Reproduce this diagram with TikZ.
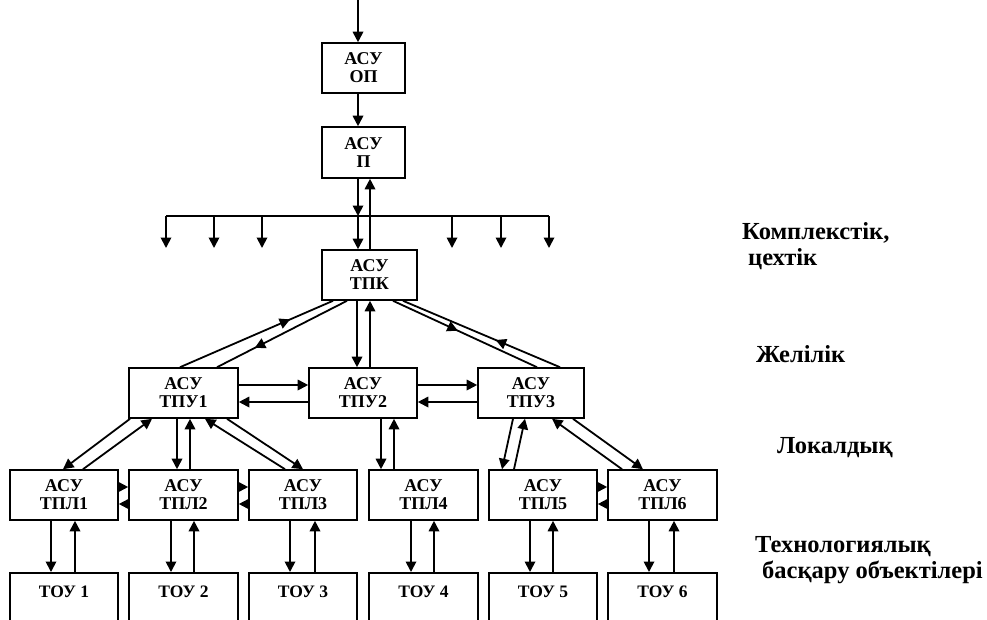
\documentclass[tikz,border=0pt]{standalone}
\usepackage{fontspec}
\setmainfont{Liberation Serif}
\usetikzlibrary{arrows.meta,decorations.markings}
\tikzset{
  box/.style={draw, line width=1.6pt, minimum width=108pt, minimum height=50pt, inner sep=0pt, align=center, font=\fontsize{18}{18}\selectfont\bfseries},
  toubox/.style={draw, line width=1.6pt, minimum width=108pt, inner xsep=0pt, inner ysep=5pt, text height=20pt, text depth=45pt, anchor=north, font=\fontsize{17.5}{18}\selectfont\bfseries},
  arr/.style={line width=1.8pt, -{Triangle[length=10.5pt,width=10.5pt]}},
  ln/.style={line width=1.8pt},
  midarr/.style={line width=1.8pt, postaction={decorate}, decoration={markings, mark=at position #1 with {\arrow{Triangle[length=10.5pt,width=10.5pt]}}}},
  lbl/.style={anchor=base west, inner sep=0pt, font=\fontsize{24.5}{28}\selectfont\bfseries}
}
\begin{document}
\begin{tikzpicture}[x=1pt,y=-1pt]
\useasboundingbox (0,0) rectangle (987,619);
\clip (0,0) rectangle (987,619);
% nodes
\node[box, minimum width=83pt] (OP) at (363.5,68) {АСУ\\ОП};
\node[box, minimum width=83pt, minimum height=51pt] (P) at (363.5,152.5) {АСУ\\П};
\node[box, minimum width=95pt] (TPK) at (369.5,275) {АСУ\\ТПК};
\node[box, minimum width=109pt] (TPU1) at (183.5,393) {АСУ\\ТПУ1};
\node[box] (TPU2) at (363,393) {АСУ\\ТПУ2};
\node[box, minimum width=106pt] (TPU3) at (531,393) {АСУ\\ТПУ3};
\node[box] (TPL1) at (64,495) {АСУ\\ТПЛ1};
\node[box, minimum width=109pt] (TPL2) at (183.5,495) {АСУ\\ТПЛ2};
\node[box] (TPL3) at (303,495) {АСУ\\ТПЛ3};
\node[box, minimum width=109pt] (TPL4) at (423.5,495) {АСУ\\ТПЛ4};
\node[box] (TPL5) at (543,495) {АСУ\\ТПЛ5};
\node[box, minimum width=109pt] (TPL6) at (662.5,495) {АСУ\\ТПЛ6};
\node[toubox] (TOU1) at (64,572) {ТОУ 1};
\node[toubox, minimum width=109pt] (TOU2) at (183.5,572) {ТОУ 2};
\node[toubox] (TOU3) at (303,572) {ТОУ 3};
\node[toubox, minimum width=109pt] (TOU4) at (423.5,572) {ТОУ 4};
\node[toubox] (TOU5) at (543,572) {ТОУ 5};
\node[toubox, minimum width=109pt] (TOU6) at (662.5,572) {ТОУ 6};
% labels
\node[lbl] (L1) at (742,239) {Комплекстік,};
\node[lbl] (L2) at (748,265) {цехтік};
\node[lbl] (L3) at (756,362) {Желілік};
\node[lbl] (L4) at (777,453) {Локалдық};
\node[lbl] (L5) at (755,552) {Технологиялық};
\node[lbl] (L6) at (762,578) {басқару объектілері};
% top
\coordinate (in) at (358,0);
\draw[arr] (in) -- ([xshift=-5.5]OP.north);
\draw[arr] ([xshift=-5.5]OP.south) -- ([xshift=-5.5]P.north);
% bus
\coordinate (bj) at (358,216);
\coordinate (busL) at (166,216);
\coordinate (busR) at (549,216);
\coordinate (b2) at (214,216);
\coordinate (b3) at (262,216);
\coordinate (b5) at (452,216);
\coordinate (b6) at (501,216);
\draw[ln] (busL) -- (busR);
\draw[arr] ([xshift=-5.5]P.south) -- (bj);
\draw[arr] (bj) -- ([xshift=-11.5]TPK.north);
\draw[arr] ([xshift=0.5]TPK.north) -- ([xshift=6.5]P.south);
\foreach \c in {busL,b2,b3,b5,b6,busR} \draw[arr] (\c) -- ++(0,32);
% TPK - TPU
\draw[midarr=0.72] ([xshift=-3.5]TPU1.north) -- ([xshift=-36.5]TPK.south);
\draw[midarr=0.71] ([xshift=-22.5]TPK.south) -- ([xshift=33.5]TPU1.north);
\draw[arr] ([xshift=-12.5]TPK.south) -- ([xshift=-6]TPU2.north);
\draw[arr] ([xshift=7]TPU2.north) -- ([xshift=0.5]TPK.south);
\draw[midarr=0.45] ([xshift=23.5]TPK.south) -- ([xshift=6]TPU3.north);
\draw[midarr=0.41] ([xshift=29]TPU3.north) -- ([xshift=33.5]TPK.south);
% TPU horizontal
\draw[arr] ([yshift=8]TPU1.east) -- ([yshift=8]TPU2.west);
\draw[arr] ([yshift=-9]TPU2.west) -- ([yshift=-9]TPU1.east);
\draw[arr] ([yshift=8]TPU2.east) -- ([yshift=8]TPU3.west);
\draw[arr] ([yshift=-9]TPU3.west) -- ([yshift=-9]TPU2.east);
% TPU - TPL
\draw[arr] ([xshift=-53.5]TPU1.south) -- ([xshift=-1]TPL1.north);
\draw[arr] ([xshift=19]TPL1.north) -- ([xshift=-31.5]TPU1.south);
\draw[arr] ([xshift=-6.5]TPU1.south) -- ([xshift=-6.5]TPL2.north);
\draw[arr] ([xshift=6.5]TPL2.north) -- ([xshift=6.5]TPU1.south);
\draw[arr] ([xshift=-18]TPL3.north) -- ([xshift=21.5]TPU1.south);
\draw[arr] ([xshift=43.5]TPU1.south) -- ([xshift=0]TPL3.north);
\draw[arr] ([xshift=18]TPU2.south) -- ([xshift=-42.5]TPL4.north);
\draw[arr] ([xshift=-29.5]TPL4.north) -- ([xshift=31]TPU2.south);
\draw[arr] ([xshift=-18]TPU3.south) -- ([xshift=-41]TPL5.north);
\draw[arr] ([xshift=-29]TPL5.north) -- ([xshift=-6]TPU3.south);
\draw[arr] ([xshift=-40.5]TPL6.north) -- ([xshift=21]TPU3.south);
\draw[arr] ([xshift=42]TPU3.south) -- ([xshift=-19.5]TPL6.north);
% TPL lateral
\draw[arr] ([yshift=8]TPL1.east) -- ([yshift=8]TPL2.west);
\draw[arr] ([yshift=-9]TPL2.west) -- ([yshift=-9]TPL1.east);
\draw[arr] ([yshift=8]TPL2.east) -- ([yshift=8]TPL3.west);
\draw[arr] ([yshift=-9]TPL3.west) -- ([yshift=-9]TPL2.east);
\draw[arr] ([yshift=8]TPL5.east) -- ([yshift=8]TPL6.west);
\draw[arr] ([yshift=-9]TPL6.west) -- ([yshift=-9]TPL5.east);
% TPL - TOU
\foreach \i/\d/\u in {1/-13/11, 2/-12.5/10.5, 3/-13/12, 4/-12.5/10.5, 5/-13/10, 6/-13.5/11.5} {
  \draw[arr] ([xshift=\d]TPL\i.south) -- ([xshift=\d]TOU\i.north);
  \draw[arr] ([xshift=\u]TOU\i.north) -- ([xshift=\u]TPL\i.south);
}
\end{tikzpicture}
\end{document}
